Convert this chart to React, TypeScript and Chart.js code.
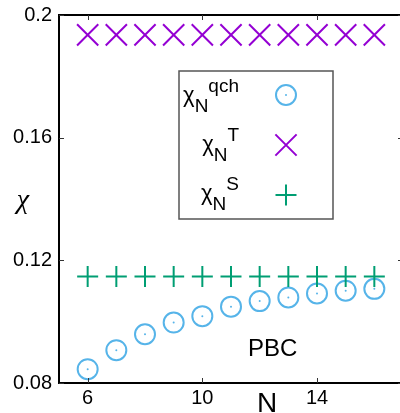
import React, { useEffect, useRef } from "react";
import { Chart, registerables } from "chart.js";

Chart.register(...registerables);

const sizesN = [6, 7, 8, 9, 10, 11, 12, 13, 14, 15, 16];
const chiQch = [0.0845, 0.0907, 0.0959, 0.0997, 0.1018, 0.1049, 0.1067, 0.1079, 0.1092, 0.1101, 0.1107];
const chiT = [0.1935, 0.1935, 0.1935, 0.1935, 0.1935, 0.1935, 0.1935, 0.1935, 0.1935, 0.1935, 0.1935];
const chiS = [0.1147, 0.1147, 0.1147, 0.1147, 0.1147, 0.1147, 0.1147, 0.1147, 0.1147, 0.1147, 0.1147];

const xTicks = [6, 10, 14];
const yTicks = [0.08, 0.12, 0.16, 0.2];
const yTickLabels = ["0.08", "0.12", "0.16", "0.2"];

const BLUE = "#56B4E9";
const PURPLE = "#9400D3";
const GREEN = "#009E73";
const FONT = "'Liberation Sans', Arial, sans-serif";

const legendRows = [
  { sup: "qch", style: "circle", color: BLUE },
  { sup: "T", style: "crossRot", color: PURPLE },
  { sup: "S", style: "cross", color: GREEN },
];

function drawMarker(ctx: CanvasRenderingContext2D, style: string, color: string, x: number, y: number) {
  ctx.save();
  ctx.strokeStyle = color;
  ctx.fillStyle = color;
  ctx.lineWidth = 2;
  ctx.beginPath();
  if (style === "circle") {
    ctx.arc(x, y, 10, 0, Math.PI * 2);
    ctx.stroke();
    ctx.beginPath();
    ctx.arc(x, y, 1, 0, Math.PI * 2);
    ctx.fill();
  } else if (style === "crossRot") {
    const d = 15 * Math.SQRT1_2;
    ctx.moveTo(x - d, y - d);
    ctx.lineTo(x + d, y + d);
    ctx.moveTo(x + d, y - d);
    ctx.lineTo(x - d, y + d);
    ctx.stroke();
  } else {
    ctx.moveTo(x - 10.5, y);
    ctx.lineTo(x + 10.5, y);
    ctx.moveTo(x, y - 10.5);
    ctx.lineTo(x, y + 10.5);
    ctx.stroke();
  }
  ctx.restore();
}

const decorPlugin = {
  id: "decor",
  afterDraw(chart: any) {
    const ctx: CanvasRenderingContext2D = chart.ctx;
    const { left, right, top, bottom } = chart.chartArea;
    const xs = chart.scales.x;
    const ys = chart.scales.y;
    ctx.save();
    // frame
    ctx.strokeStyle = "#000";
    ctx.lineWidth = 2;
    ctx.beginPath();
    ctx.moveTo(left, top);
    ctx.lineTo(right, top);
    ctx.lineTo(right, bottom);
    ctx.lineTo(left, bottom);
    ctx.closePath();
    ctx.stroke();
    // inward ticks
    ctx.lineWidth = 1;
    ctx.strokeStyle = "#333";
    ctx.beginPath();
    for (const v of yTicks) {
      const py = Math.round(ys.getPixelForValue(v)) + 0.5;
      ctx.moveTo(left, py);
      ctx.lineTo(left + 5, py);
      ctx.moveTo(right, py);
      ctx.lineTo(right - 5, py);
    }
    for (const v of xTicks) {
      const px = Math.round(xs.getPixelForValue(v)) + 0.5;
      ctx.moveTo(px, bottom);
      ctx.lineTo(px, bottom - 5);
      ctx.moveTo(px, top);
      ctx.lineTo(px, top + 5);
    }
    ctx.stroke();

    // axis titles
    ctx.fillStyle = "#000";
    ctx.font = "italic 28px 'Liberation Serif', 'Times New Roman', serif";
    ctx.textAlign = "center";
    ctx.textBaseline = "middle";
    ctx.fillText("χ", 23, 201);
    ctx.font = `28px ${FONT}`;
    ctx.textBaseline = "alphabetic";
    ctx.fillText("N", 267, 412);
    ctx.font = `24px ${FONT}`;
    ctx.textAlign = "left";
    ctx.fillText("PBC", 248, 356);

    // legend box
    ctx.fillStyle = "#fff";
    ctx.fillRect(179, 71, 154, 148);
    ctx.strokeStyle = "#555";
    ctx.lineWidth = 1.5;
    ctx.strokeRect(179, 71, 154, 148);

    legendRows.forEach((row, i) => {
      const base = 102 + i * 49;
      const parts = [
        { t: "χ", dy: 0, size: 22 },
        { t: "N", dy: 10, size: 19 },
        { t: row.sup, dy: -10, size: 19 },
      ];
      let total = 0;
      for (const p of parts) {
        ctx.font = `${p.size}px ${FONT}`;
        total += ctx.measureText(p.t).width;
      }
      let x = 239 - total;
      ctx.fillStyle = "#000";
      ctx.textAlign = "left";
      ctx.textBaseline = "alphabetic";
      for (const p of parts) {
        ctx.font = `${p.size}px ${FONT}`;
        ctx.fillText(p.t, x, base + p.dy);
        x += ctx.measureText(p.t).width;
      }
      drawMarker(ctx, row.style, row.color, 286, 95 + i * 50);
    });
    ctx.restore();
  },
};

function zeroPad(s: any) {
  s.paddingLeft = 0;
  s.paddingRight = 0;
  s.paddingTop = 0;
  s.paddingBottom = 0;
}

export default function App() {
  const ref = useRef<HTMLCanvasElement>(null);
  useEffect(() => {
    if (!ref.current) return;
    const chart = new Chart(ref.current, {
      type: "scatter",
      data: {
        datasets: [
          {
            label: "S",
            data: sizesN.map((n, i) => ({ x: n, y: chiS[i] })),
            pointStyle: "cross",
            pointRadius: 10.5,
            borderColor: GREEN,
            backgroundColor: GREEN,
            pointBorderWidth: 2,
            order: 0,
          },
          {
            label: "T",
            data: sizesN.map((n, i) => ({ x: n, y: chiT[i] })),
            pointStyle: "crossRot",
            pointRadius: 15,
            borderColor: PURPLE,
            backgroundColor: PURPLE,
            pointBorderWidth: 2,
            order: 1,
          },
          {
            label: "qch dot",
            data: sizesN.map((n, i) => ({ x: n, y: chiQch[i] })),
            pointStyle: "circle",
            pointRadius: 1,
            borderWidth: 0,
            pointBorderWidth: 0,
            backgroundColor: BLUE,
            borderColor: BLUE,
            order: 2,
          },
          {
            label: "qch",
            data: sizesN.map((n, i) => ({ x: n, y: chiQch[i] })),
            pointStyle: "circle",
            pointRadius: 10,
            pointBorderWidth: 2,
            borderColor: BLUE,
            backgroundColor: "rgba(0,0,0,0)",
            order: 3,
          },
        ],
      },
      options: {
        animation: false,
        responsive: false,
        devicePixelRatio: 1,
        layout: { autoPadding: false, padding: { top: 15, right: 0, left: 0, bottom: 0 } },
        plugins: { legend: { display: false }, tooltip: { enabled: false } },
        scales: {
          x: {
            type: "linear",
            min: 5,
            max: 17,
            grid: { display: false, drawTicks: false },
            border: { display: false },
            afterBuildTicks: (s: any) => {
              s.ticks = xTicks.map((v) => ({ value: v }));
            },
            afterFit: (s: any) => {
              s.height = 30;
              zeroPad(s);
            },
            ticks: {
              color: "#000",
              font: { family: FONT, size: 20 },
              padding: 3,
              maxRotation: 0,
              callback: (v: any) => String(v),
            },
          },
          y: {
            type: "linear",
            min: 0.08,
            max: 0.2,
            grid: { display: false, drawTicks: false },
            border: { display: false },
            afterBuildTicks: (s: any) => {
              s.ticks = yTicks.map((v) => ({ value: v }));
            },
            afterFit: (s: any) => {
              s.width = 59;
              zeroPad(s);
            },
            ticks: {
              color: "#000",
              font: { family: FONT, size: 20 },
              padding: 7,
              callback: (v: any) => {
                const i = yTicks.findIndex((t) => Math.abs(t - v) < 1e-9);
                return i >= 0 ? yTickLabels[i] : "";
              },
            },
          },
        },
      },
      plugins: [decorPlugin],
    } as any);
    return () => chart.destroy();
  }, []);
  return (
    <div style={{ position: "fixed", left: 0, top: 0, width: 400, height: 413, overflow: "hidden", background: "#fff" }}>
      <canvas ref={ref} width={403} height={413} style={{ display: "block", width: 403, height: 413 }} />
    </div>
  );
}
